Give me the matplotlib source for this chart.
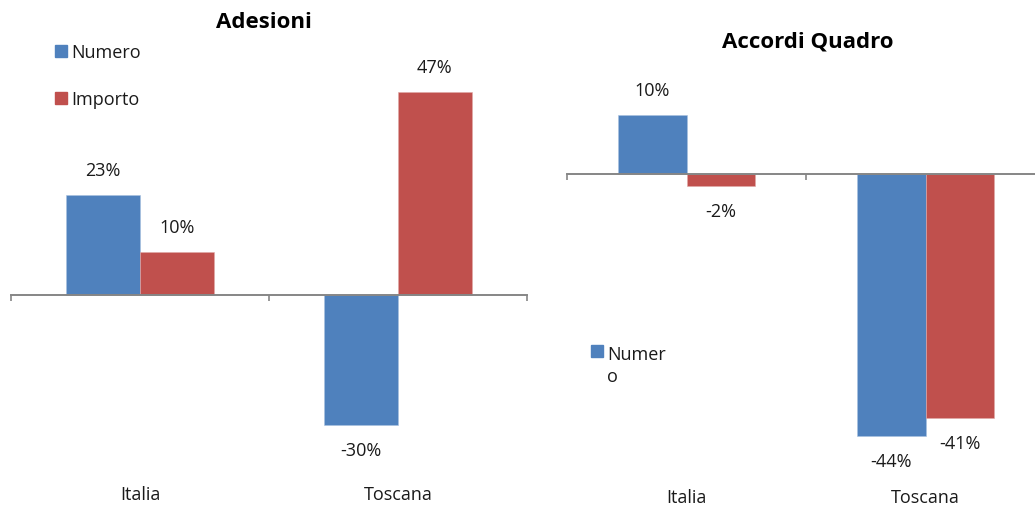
import matplotlib.pyplot as plt
from matplotlib.patches import Patch
from matplotlib.ticker import FixedLocator
import matplotlib.transforms as mtransforms

plt.rcParams['font.family'] = ['Open Sans', 'DejaVu Sans']

categories = ['Italia', 'Toscana']
series = ['Numero', 'Importo']
adesioni_numero = [0.23, -0.30]
adesioni_importo = [0.10, 0.47]
accordi_numero = [0.10, -0.44]
accordi_importo = [-0.02, -0.41]

BLUE = '#4F81BD'
RED = '#C0504D'
AXIS_GREY = '#868686'
TEXT = '#1a1a1a'
FS = 13

W, H = 1035, 510
fig = plt.figure(figsize=(W / 100, H / 100), dpi=100)


def px_axes(x0, y0, x1, y1):
    # pixel box (top-left origin) -> figure fraction
    return fig.add_axes([x0 / W, 1 - y1 / H, (x1 - x0) / W, (y1 - y0) / H])


def draw_panel(ax, numero, importo, ylim, label_y):
    width = 1 / 3.5
    xs = range(len(categories))
    b1 = ax.bar([x - width / 2 for x in xs], numero, width, color=BLUE,
                edgecolor='#a9c1e0', linewidth=0.4)
    b2 = ax.bar([x + width / 2 for x in xs], importo, width, color=RED,
                edgecolor='#e0a9a7', linewidth=0.4)
    for bars, vals in ((b1, numero), (b2, importo)):
        for rect, v in zip(bars, vals):
            ax.annotate(f'{v * 100:.0f}%',
                        (rect.get_x() + rect.get_width() / 2, v),
                        xytext=(0, 18 if v >= 0 else -18),
                        textcoords='offset points', ha='center', va='center',
                        fontsize=FS, color=TEXT)
    ax.set_xlim(-0.5, len(categories) - 0.5)
    ax.set_ylim(*ylim)
    for s in ('left', 'right', 'top'):
        ax.spines[s].set_visible(False)
    ax.spines['bottom'].set_position(('data', 0))
    ax.spines['bottom'].set_color(AXIS_GREY)
    ax.spines['bottom'].set_linewidth(1.4)
    ax.set_yticks([])
    ax.set_xticks([])
    ax.xaxis.set_minor_locator(FixedLocator([-0.5, 0.5, 1.5]))
    ax.tick_params(axis='x', which='minor', direction='out', length=4.5,
                   width=1.2, color=AXIS_GREY)
    trans = mtransforms.blended_transform_factory(ax.transData, fig.transFigure)
    for i, cat in enumerate(categories):
        ax.text(i, 1 - label_y / H, cat, transform=trans, ha='center',
                va='center', fontsize=FS, color=TEXT)


ax1 = px_axes(11, 58, 527, 469)
draw_panel(ax1, adesioni_numero, adesioni_importo, (-0.40, 0.55), 495)
fig.text(264 / W, 1 - 22 / H, 'Adesioni', ha='center', va='center',
         fontsize=16, fontweight='bold', color='black')

ax2 = px_axes(567, 56, 1045, 472.5)
draw_panel(ax2, accordi_numero, accordi_importo, (-0.50, 0.20), 498)
fig.text(808 / W, 1 - 42 / H, 'Accordi Quadro', ha='center', va='center',
         fontsize=16, fontweight='bold', color='black')

handles = [Patch(color=BLUE), Patch(color=RED)]
leg1 = fig.legend(handles, series, loc='upper left',
                  bbox_to_anchor=(48 / W, 1 - 37 / H), frameon=False,
                  fontsize=FS, handlelength=0.65, handleheight=0.65,
                  handletextpad=0.25, labelspacing=1.6, borderaxespad=0)
for t in leg1.get_texts():
    t.set_color(TEXT)

# the right-hand legend has a wrapped label, square sits on the first line
leg2 = fig.legend([Patch(color=BLUE)], ['Numer\no'], loc='upper left',
                  bbox_to_anchor=(584 / W, 1 - 339 / H), frameon=False,
                  fontsize=FS, handlelength=0.65, handleheight=0.65,
                  handletextpad=0.25, borderaxespad=0)
for t in leg2.get_texts():
    t.set_color(TEXT)
    t.set_linespacing(1.3)
for col in leg2._legend_handle_box.get_children():
    for row in col.get_children():
        row.align = 'top'

fig.savefig('out.png', dpi=100, facecolor='white')
